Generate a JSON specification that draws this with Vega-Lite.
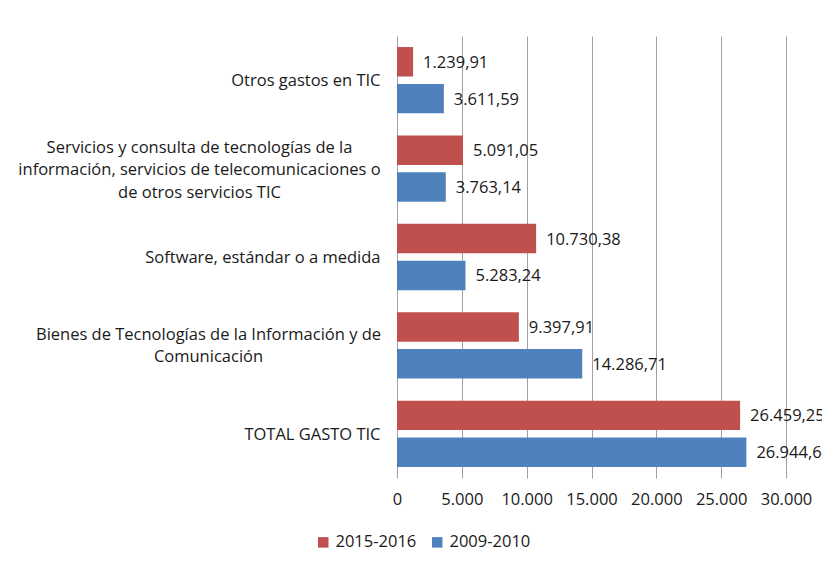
{
  "$schema": "https://vega.github.io/schema/vega-lite/v6.json",
  "autosize": "none",
  "width": 389,
  "height": 442,
  "padding": {"left": 397, "top": 36, "right": 36, "bottom": 83},
  "background": "white",
  "config": {
    "locale": {"number": {"decimal": ",", "thousands": ".", "grouping": [3], "currency": ["", " €"]}},
    "view": {"stroke": null},
    "font": "Open Sans"
  },
  "data": {
    "values": [
      {"categoria": "Otros gastos en TIC", "periodo": "2015-2016", "gasto": 1239.91},
      {"categoria": "Otros gastos en TIC", "periodo": "2009-2010", "gasto": 3611.59},
      {"categoria": "Servicios y consulta de tecnologías de la|información, servicios de telecomunicaciones o|de otros servicios TIC", "periodo": "2015-2016", "gasto": 5091.05},
      {"categoria": "Servicios y consulta de tecnologías de la|información, servicios de telecomunicaciones o|de otros servicios TIC", "periodo": "2009-2010", "gasto": 3763.14},
      {"categoria": "Software, estándar o a medida", "periodo": "2015-2016", "gasto": 10730.38},
      {"categoria": "Software, estándar o a medida", "periodo": "2009-2010", "gasto": 5283.24},
      {"categoria": "Bienes de Tecnologías de la Información y de|Comunicación", "periodo": "2015-2016", "gasto": 9397.91},
      {"categoria": "Bienes de Tecnologías de la Información y de|Comunicación", "periodo": "2009-2010", "gasto": 14286.71},
      {"categoria": "TOTAL GASTO TIC", "periodo": "2015-2016", "gasto": 26459.25},
      {"categoria": "TOTAL GASTO TIC", "periodo": "2009-2010", "gasto": 26944.68}
    ]
  },
  "encoding": {
    "y": {
      "field": "categoria",
      "type": "nominal",
      "sort": null,
      "scale": {"paddingInner": 0.25, "paddingOuter": 0.125},
      "axis": {
        "title": null,
        "labelExpr": "split(datum.label, '|')",
        "labelFont": "Open Sans",
        "labelFontSize": 16.5,
        "labelColor": "#1a1a1a",
        "labelLineHeight": 22.5,
        "labelLimit": 0,
        "labelAlign": {
          "condition": {"test": "indexof(datum.value, '|') >= 0", "value": "center"},
          "value": "right"
        },
        "labelPadding": {
          "condition": [
            {"test": "indexof(datum.value, 'Servicios') == 0", "value": 198},
            {"test": "indexof(datum.value, 'Bienes') == 0", "value": 189}
          ],
          "value": 17
        },
        "labelOffset": {
          "condition": [
            {"test": "indexof(datum.value, 'Servicios') == 0", "value": -21},
            {"test": "indexof(datum.value, 'Bienes') == 0", "value": -10.5}
          ],
          "value": 1
        },
        "ticks": false,
        "domain": false,
        "grid": false
      }
    },
    "yOffset": {
      "field": "periodo",
      "type": "nominal",
      "sort": ["2015-2016", "2009-2010"],
      "scale": {"paddingInner": 0.2, "paddingOuter": 0}
    },
    "x": {
      "field": "gasto",
      "type": "quantitative",
      "scale": {"domain": [0, 30000], "nice": false},
      "axis": {
        "title": null,
        "values": [0, 5000, 10000, 15000, 20000, 25000, 30000],
        "format": ",d",
        "labelFont": "Open Sans",
        "labelFontSize": 16.5,
        "labelColor": "#1a1a1a",
        "labelPadding": 13,
        "labelOverlap": false,
        "labelFlush": false,
        "labelBound": false,
        "grid": true,
        "gridColor": "#a0a0a0",
        "gridWidth": 1,
        "ticks": false,
        "domain": false
      }
    }
  },
  "layer": [
    {
      "mark": {"type": "bar"},
      "encoding": {
        "color": {
          "field": "periodo",
          "type": "nominal",
          "scale": {"domain": ["2015-2016", "2009-2010"], "range": ["#C0504D", "#4F81BD"]},
          "legend": {
            "title": null,
            "orient": "none",
            "direction": "horizontal",
            "legendX": -82,
            "legendY": 498,
            "symbolType": "square",
            "symbolSize": 110,
            "symbolStrokeWidth": 0,
            "symbolOpacity": 1,
            "labelFont": "Open Sans",
            "labelFontSize": 16.5,
            "labelColor": "#1a1a1a",
            "columnPadding": 12,
            "labelOffset": 4
          }
        }
      }
    },
    {
      "mark": {"type": "text", "align": "left", "baseline": "middle", "dx": 10, "dy": 1, "font": "Open Sans", "fontSize": 16.5, "color": "#1a1a1a"},
      "encoding": {
        "text": {"field": "gasto", "type": "quantitative", "format": ",.2f"}
      }
    }
  ]
}
